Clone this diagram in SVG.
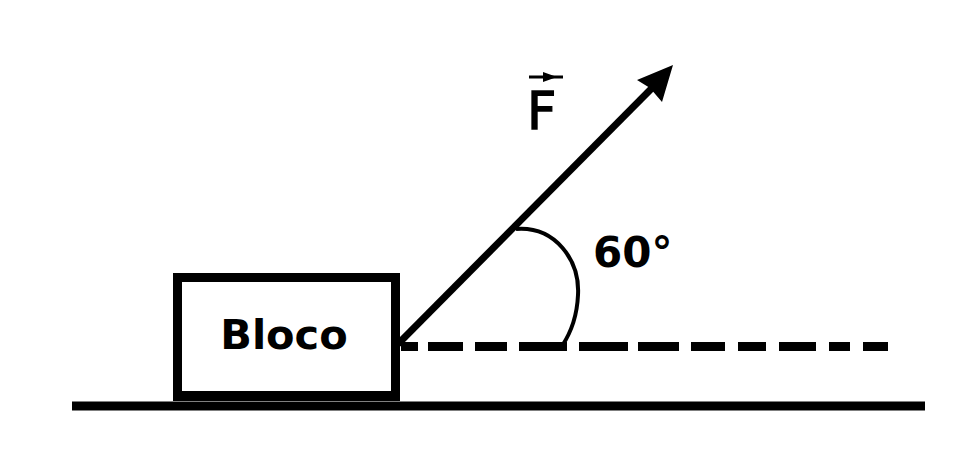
<svg xmlns="http://www.w3.org/2000/svg" width="956" height="466" viewBox="0 0 956 466">
<style>
.lbl{font-family:"DejaVu Sans","Liberation Sans",sans-serif;fill:#000}
.bold{font-weight:bold}
.ink{stroke:#000;fill:none}
</style>
<rect width="956" height="466" fill="#fff"/>
<g id="ground">
<line class="ink" x1="72" y1="406" x2="925" y2="406" stroke-width="9"/>
</g>
<g id="block">
<rect class="ink" x="177.5" y="277.5" width="218" height="118" stroke-width="9"/>
<rect x="173" y="392" width="227" height="9" fill="#000"/>
<text class="lbl bold" x="284" y="349" font-size="41.5" text-anchor="middle">Bloco</text>
</g>
<g id="connectors">
<line class="ink" x1="401" y1="346.5" x2="888" y2="346.5" stroke-width="9" stroke-dasharray="17 10 35 12 32 12 48 12 49 10 41 12 34 13 28 13 37 13 21 13 25 100"/>
<line class="ink" x1="398" y1="344" x2="656" y2="84" stroke-width="7"/>
<polygon points="673,65 637,80 650,88 662,102" fill="#000"/>
</g>
<g id="angle">
<path class="ink" d="M 516 229 C 555 226 580 260 578 295 C 577 318 570 334 562 346" stroke-width="4"/>
<text class="lbl bold" x="593" y="267" font-size="42">60°</text>
</g>
<g id="force-label">
<text class="lbl" x="527" y="129" font-size="51" stroke="#000" stroke-width="1.3">F</text>
<line class="ink" x1="529" y1="77" x2="563" y2="77" stroke-width="3"/>
<polygon points="557,77 543,72 543,82" fill="#000"/>
</g>
</svg>
